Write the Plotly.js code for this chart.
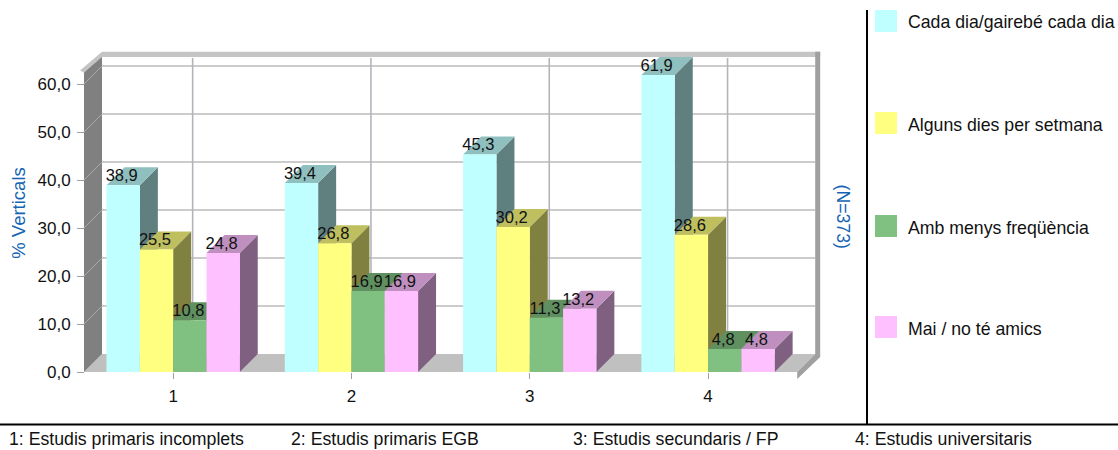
<!DOCTYPE html>
<html>
<head>
<meta charset="utf-8">
<script src="https://cdn.plot.ly/plotly-3.0.1.min.js"></script>
<style>html,body{margin:0;padding:0;background:#fff}#chart{width:1118px;height:450px}</style>
</head>
<body>
<div id="chart"></div>
<script>
var categories = [1, 2, 3, 4];
var categoryNotes = ['1: Estudis primaris incomplets', '2: Estudis primaris EGB', '3: Estudis secundaris / FP', '4: Estudis universitaris'];
var seriesNames = ['Cada dia/gairebé cada dia', 'Alguns dies per setmana', 'Amb menys freqüència', 'Mai / no té amics'];
var dailyValues = [38.9, 39.4, 45.3, 61.9];
var weeklyValues = [25.5, 26.8, 30.2, 28.6];
var lessValues = [10.8, 16.9, 11.3, 4.8];
var neverValues = [24.8, 16.9, 13.2, 4.8];
var allValues = [dailyValues, weeklyValues, lessValues, neverValues];
var frontColors = ['#BFFFFF', '#FFFF80', '#80C080', '#FFC0FF'];
var topColors = ['#8FBFBF', '#BFBF60', '#609060', '#BF90BF'];
var sideColors = ['#608080', '#808040', '#406040', '#806080'];
var yTicks = [0, 10, 20, 30, 40, 50, 60];
var yTickText = ['0,0', '10,0', '20,0', '30,0', '40,0', '50,0', '60,0'];

var FONT = '"Liberation Sans", Arial, sans-serif';
var BLUE = '#1464B4';
var plotL = 80, plotR = 822, plotT = 44, plotB = 382;
var axisX = 84, axisY = 372, pxX = 178.3, pxY = 4.8, depth = 18;
var barW = 33.3 / pxX, dx = depth / pxX, dy = depth / pxY;
function px(x) { return (x - plotL) / (plotR - plotL); }
function py(y) { return (plotB - y) / (plotB - plotT); }
var xRange = [0.5 - (axisX - plotL) / pxX, 0.5 + (plotR - axisX) / pxX];
var yRange = [-(plotB - axisY) / pxY, (axisY - plotT) / pxY];
var xEnd = 4.5;

var shapes = [];
function poly(points, fill) {
  var path = points.map(function (p, i) { return (i ? 'L ' : 'M ') + p[0] + ' ' + p[1]; }).join(' ') + ' Z';
  shapes.push({ type: 'path', path: path, xref: 'x', yref: 'y', fillcolor: fill, line: { width: 0 }, layer: 'below' });
}
function seg(x0, y0, x1, y1, color, w) {
  shapes.push({ type: 'line', x0: x0, y0: y0, x1: x1, y1: y1, xref: 'x', yref: 'y', line: { color: color, width: w }, layer: 'below' });
}
// walls and floor
poly([[0.5, 0], [0.5 + dx, dy], [xEnd + dx, dy], [xEnd, 0]], '#C0C0C0');
poly([[0.5, 0], [0.5, 62.4], [0.5 + dx, 62.4 + dy], [0.5 + dx, dy]], '#808080');
yTicks.forEach(function (v) {
  if (v > 0) seg(0.5, v, 0.5 + dx, v + dy, '#A8A8A8', 1);
});
// back wall grid
yTicks.forEach(function (v) {
  if (v > 0) seg(0.5 + dx, v + dy, xEnd + dx, v + dy, '#BBBBBB', 1.6);
});
categories.forEach(function (c) {
  seg(c + dx + 1.5 / pxX, dy, c + dx + 1.5 / pxX, 65.4, '#B4B4BC', 1.6);
});
// frame: top strip, left cap, right strip
poly([[0.5 - 4 / pxX, 62.4 + 4 / pxY - 2 / pxY], [0.5 + dx, 66.7], [xEnd + 23 / pxX, 66.7], [xEnd + 23 / pxX, 65.6], [0.5 + dx, 65.6], [0.5, 62.4]], '#C4C4C4');
poly([[xEnd + dx, dy], [xEnd + dx, 66.7], [xEnd + 23 / pxX, 66.7], [xEnd + 23 / pxX, 3.1], [xEnd, -1.45], [xEnd, 0]], '#A0A0A0');

// depth faces of the bars, back to front in painter's order
categories.forEach(function (c, i) {
  allValues.forEach(function (vals, j) {
    var x0 = c + (j - 2) * barW, x1 = x0 + barW, v = vals[i];
    poly([[x1, 0], [x1, v], [x1 + dx, v + dy], [x1 + dx, dy]], sideColors[j]);
    poly([[x0, v], [x1, v], [x1 + dx, v + dy], [x0 + dx, v + dy]], topColors[j]);
  });
});

var data = allValues.map(function (vals, j) {
  return { type: 'bar', x: categories, y: vals, name: seriesNames[j], marker: { color: frontColors[j], line: { width: 0 } }, hoverinfo: 'skip' };
});
allValues.forEach(function (vals, j) {
  data.push({
    type: 'scatter', mode: 'text', cliponaxis: false, showlegend: false, hoverinfo: 'skip',
    x: categories.map(function (c) { return c + (j - 1.5) * barW - 1.5 / pxX; }),
    y: vals,
    text: vals.map(function (v) { return v.toFixed(1).replace('.', ','); }),
    textposition: 'top center',
    textfont: { family: FONT, size: 16.5, color: '#111111' }
  });
});

// rules
var rule = { type: 'line', xref: 'paper', yref: 'paper', line: { color: '#000000', width: 2 } };
shapes.push(Object.assign({}, rule, { x0: px(867), x1: px(867), y0: py(10), y1: py(424) }));
shapes.push(Object.assign({}, rule, { x0: px(0), x1: px(1118), y0: py(424.5), y1: py(424.5) }));

var annotations = [];
function label(text, x, y, opts) {
  annotations.push(Object.assign({
    text: text, xref: 'paper', yref: 'paper', x: px(x), y: py(y), showarrow: false, borderpad: 0,
    xanchor: 'left', yanchor: 'middle', font: { family: FONT, size: 17.7, color: '#111111' }
  }, opts || {}));
}
var legendY = [21, 123, 226, 327];
seriesNames.forEach(function (n, j) {
  shapes.push({ type: 'rect', xref: 'paper', yref: 'paper', x0: px(875), x1: px(897), y0: py(legendY[j] - 11), y1: py(legendY[j] + 11), fillcolor: frontColors[j], line: { width: 0 } });
  label(n, 907, legendY[j] + 1.5);
});
var noteX = [8, 290, 572, 854];
categoryNotes.forEach(function (n, i) { label(n, noteX[i], 438.5); });
label('(N=373)', 843, 216.5, { textangle: 90, xanchor: 'center', font: { family: FONT, size: 17.7, color: BLUE } });

var layout = {
  width: 1118, height: 450,
  margin: { l: plotL, r: 1118 - plotR, t: plotT, b: 450 - plotB, pad: 0 },
  paper_bgcolor: '#FFFFFF', plot_bgcolor: '#FFFFFF',
  showlegend: false,
  barmode: 'group', bargap: 0.2523, bargroupgap: 0,
  xaxis: {
    range: xRange, anchor: 'free', position: (plotB - axisY) / (plotB - plotT),
    tickvals: categories, ticktext: categories.map(String), ticks: 'outside', ticklen: 6, tickwidth: 1, tickcolor: '#A0A0A0',
    tickfont: { family: FONT, size: 17, color: '#111111' }, ticklabelstandoff: 3, showgrid: false, zeroline: false, showline: false
  },
  yaxis: {
    range: yRange, anchor: 'free', position: (axisX - plotL) / (plotR - plotL),
    tickvals: yTicks, ticktext: yTickText, ticks: 'outside', ticklen: 7, tickwidth: 1, tickcolor: '#A0A0A0',
    tickfont: { family: FONT, size: 17, color: '#111111' }, ticklabelstandoff: 3, showgrid: false, zeroline: false, showline: false,
    title: { text: '% Verticals', font: { family: FONT, size: 18.5, color: BLUE }, standoff: 6 }
  },
  shapes: shapes, annotations: annotations
};
Plotly.newPlot('chart', data, layout, { displayModeBar: false, staticPlot: true });
</script>
</body>
</html>
